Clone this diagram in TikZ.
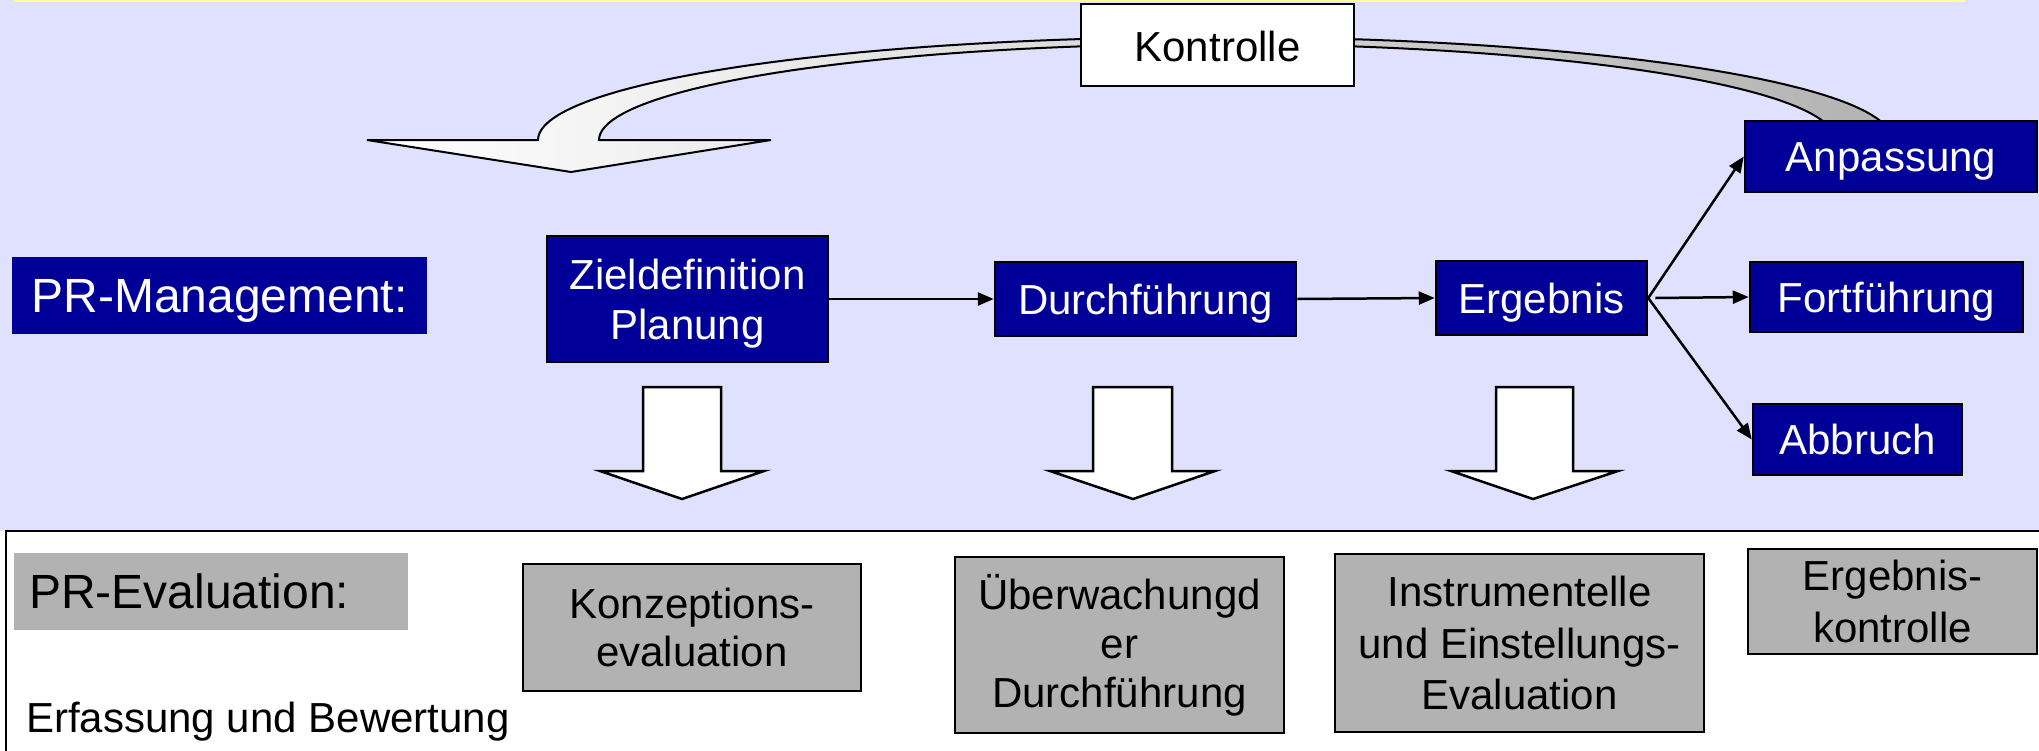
\documentclass[tikz,border=0pt]{standalone}
\usepackage{fontspec}
\setmainfont{Liberation Sans}
\usetikzlibrary{arrows.meta}
\definecolor{myblue}{HTML}{000099}
\definecolor{mygray}{HTML}{B2B2B2}
\definecolor{lav}{HTML}{E0E0FF}
\definecolor{yel}{HTML}{FFFF99}
\newcommand{\fsA}{\fontsize{42}{50}\selectfont}
\newcommand{\fsB}{\fontsize{48}{56}\selectfont}
\tikzset{
  bluebox/.style={fill=myblue, draw=black, line width=2.5pt, text=white, inner sep=0pt, align=center, font=\fsA},
  graybox/.style={fill=mygray, draw=black, line width=2.5pt, text=black, inner sep=0pt, align=center, font=\fsA},
  oneline/.style={text height=30pt, text depth=0pt},
  multiline/.style={text depth=0pt},
  conn/.style={line width=2.5pt, -{Triangle[length=16pt,width=13pt]}},
  blockarrow/.style={fill=white, draw=black, line width=2.5pt, line join=miter},
}
\begin{document}
\begin{tikzpicture}[x=1pt,y=-1pt]
\clip (0,0) rectangle (2039,750);
% backgrounds
\fill[lav] (0,0) rectangle (2039,531);
\fill[white] (0,531) rectangle (2039,750);
\draw[yel, line width=2.5pt] (14,1) -- (1965,1);
\draw[line width=2pt, fill=white] (6,531) rectangle (2070,780);

% curved feedback ribbon
\shadedraw[left color=white, right color=gray!60, draw=black, line width=2pt, line join=miter]
  (367,140) -- (538,140)
  -- plot[domain=180:360, samples=90] ({1215+677*cos(\x)},{140+103*sin(\x)})
  -- (1835,140)
  -- plot[domain=0:-180, samples=90] ({1217+618*cos(\x)},{140+96*sin(\x)})
  -- (771,140) -- (571,172) -- cycle;

% PR-Management row
\node[fill=myblue, text=white, inner sep=0pt, minimum width=415pt, minimum height=77pt, font=\fsB, text height=34pt, text depth=0pt] (pm) at (219.5,295.5) {PR-Management:};
\node[bluebox, multiline, minimum width=281pt, minimum height=126pt] (zp) at (687.5,299) {Zieldefinition\\Planung};
\node[bluebox, oneline, minimum width=301pt, minimum height=74pt] (du) at (1145.5,299) {Durchführung};
\node[bluebox, oneline, minimum width=211pt, minimum height=74pt] (er) at (1541.5,298) {Ergebnis};
\node[bluebox, oneline, minimum width=292pt, minimum height=71pt] (an) at (1891,156.5) {Anpassung};
\node[bluebox, oneline, minimum width=273pt, minimum height=70pt] (fo) at (1886.5,297) {Fortführung};
\node[bluebox, oneline, minimum width=209pt, minimum height=71pt] (ab) at (1857.5,439.5) {Abbruch};
\node[fill=white, draw=black, line width=2.5pt, inner sep=0pt, minimum width=273pt, minimum height=82pt, font=\fsA, text height=32pt, text depth=0pt] (ko) at (1217.5,45) {Kontrolle};

% connectors
\draw[conn] (zp.east) -- (du.west);
\draw[conn] (du.east) -- (er.west);
\draw[conn] (er.east) -- (an.west);
\draw[conn] ([xshift=7pt]er.east) -- (fo.west);
\draw[conn] (er.east) -- (ab.west);

% block arrows down
\foreach \sl/\sr/\hl/\hr/\tp in {643/721/600/764/682, 1093/1172/1050/1215/1133, 1496/1573/1451/1618/1533}
  \draw[blockarrow] (\sl,387) -- (\sr,387) -- (\sr,471) -- (\hr,471) -- (\tp,499) -- (\hl,471) -- (\sl,471) -- cycle;

% PR-Evaluation row
\node[fill=mygray, inner sep=0pt, minimum width=394pt, minimum height=77pt] (pe) at (211,591.5) {};
\node[anchor=west, inner sep=0pt, font=\fsB, text height=34pt, text depth=0pt] (pet) at ([xshift=15pt]pe.west) {PR-Evaluation:};
\node[graybox, minimum width=338pt, minimum height=127pt, font=\fontsize{42}{48}\selectfont] (ke) at (692,627.5) {Konzeptions-\\evaluation};
\node[graybox, minimum width=329pt, minimum height=176pt, font=\fontsize{42}{49}\selectfont] (ue) at (1119.5,645) {Überwachungd\\er\\Durchführung};
\node[graybox, minimum width=369pt, minimum height=178pt, font=\fontsize{42}{51.5}\selectfont] (ie) at (1519.5,643) {Instrumentelle\\und Einstellungs-\\Evaluation};
\node[graybox, minimum width=289pt, minimum height=105pt, font=\fontsize{42}{52}\selectfont] (ek) at (1892.5,601.5) {Ergebnis-\\kontrolle};
\node[anchor=base west, inner sep=0pt, font=\fsA] (eb) at (26,732) {Erfassung und Bewertung};
\end{tikzpicture}
\end{document}
